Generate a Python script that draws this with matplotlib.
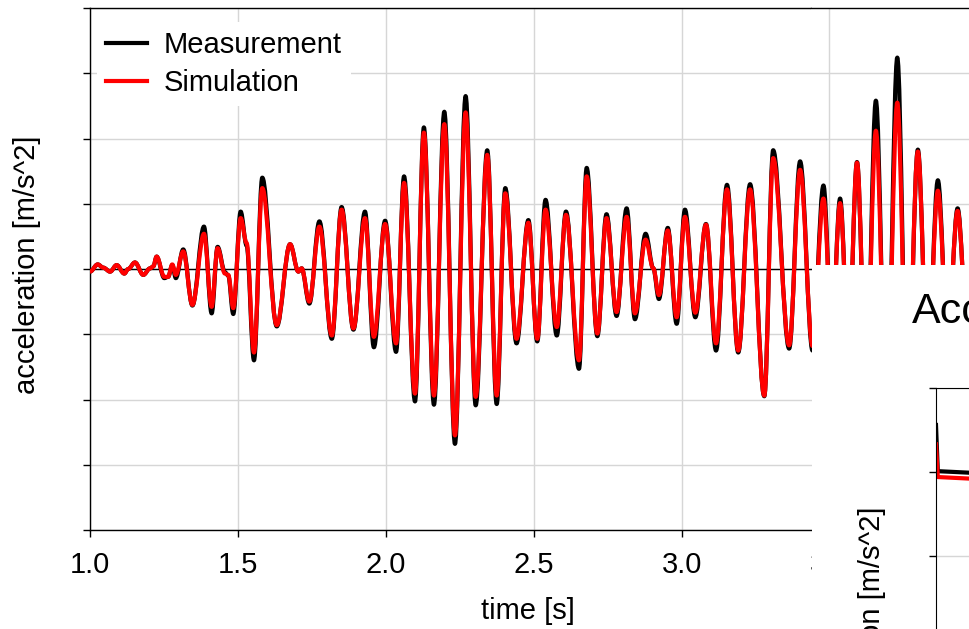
"""Measurement vs simulation acceleration trace (overlapping screenshot)."""

import matplotlib

matplotlib.use("Agg")
import matplotlib.pyplot as plt
import numpy as np
from matplotlib.lines import Line2D
from matplotlib.patches import PathPatch, Rectangle
from matplotlib.path import Path

plt.rcParams["font.family"] = ["Liberation Sans", "DejaVu Sans"]

# extrema of the traces (time [s], acceleration)
time = [
    1.000, 1.026, 1.045, 1.068, 1.090, 1.116, 1.129, 1.152, 1.180, 1.203,
    1.214, 1.225, 1.251, 1.264, 1.278, 1.290, 1.315, 1.346, 1.385, 1.411,
    1.431, 1.456, 1.467, 1.484, 1.509, 1.529, 1.554, 1.582, 1.631, 1.676,
    1.704, 1.715, 1.741, 1.775, 1.817, 1.850, 1.890, 1.929, 1.959, 1.997,
    2.034, 2.061, 2.098, 2.128, 2.162, 2.197, 2.233, 2.269, 2.303, 2.342,
    2.374, 2.403, 2.441, 2.481, 2.511, 2.539, 2.577, 2.608, 2.652, 2.678,
    2.714, 2.745, 2.779, 2.813, 2.841, 2.877, 2.903, 2.922, 2.952, 2.982,
    3.010, 3.045, 3.081, 3.115, 3.152, 3.190, 3.230, 3.278, 3.308, 3.362,
    3.399, 3.441, 3.480, 3.510, 3.539, 3.569, 3.599, 3.632, 3.666, 3.704,
    3.742, 3.778, 3.815, 3.850, 3.886, 3.921, 3.956, 3.990,
]
measurement = [
    -0.04, 0.07, 0.02, -0.04, 0.06, -0.07, 0.00, 0.10, -0.09, 0.01,
    0.04, 0.19, -0.14, -0.12, 0.06, -0.14, 0.30, -0.56, 0.65, -0.68,
    0.34, -0.05, -0.10, -0.69, 0.88, 0.36, -1.40, 1.40, -0.88, 0.38,
    -0.04, 0.01, -0.53, 0.73, -1.07, 0.95, -0.93, 0.88, -1.20, 0.74,
    -1.27, 1.42, -2.03, 2.17, -2.08, 2.41, -2.68, 2.65, -2.09, 1.82,
    -2.07, 1.24, -1.14, 0.75, -1.11, 1.06, -1.02, 0.88, -1.53, 1.55,
    -1.03, 0.84, -0.72, 0.93, -0.77, 0.54, 0.01, -0.46, 0.63, -0.84,
    0.91, -0.74, 0.69, -1.25, 1.29, -1.28, 1.30, -1.95, 1.82, -1.22,
    1.65, -1.25, 1.28, -1.00, 1.08, -1.20, 1.64, -1.80, 2.58, -2.40,
    3.24, -2.20, 1.83, -1.50, 1.36, -1.10, 0.93, -0.90,
]
simulation = [
    -0.04, 0.07, 0.02, -0.04, 0.06, -0.07, 0.00, 0.10, -0.09, 0.01,
    0.04, 0.19, -0.12, -0.12, 0.07, -0.09, 0.27, -0.55, 0.54, -0.58,
    0.32, -0.07, -0.09, -0.60, 0.78, 0.40, -1.28, 1.24, -0.86, 0.38,
    -0.04, 0.01, -0.50, 0.65, -1.02, 0.91, -0.91, 0.78, -1.04, 0.69,
    -1.14, 1.32, -1.91, 2.09, -1.94, 2.22, -2.55, 2.40, -1.96, 1.75,
    -1.94, 1.16, -1.07, 0.71, -1.07, 0.91, -0.89, 0.83, -1.40, 1.42,
    -0.99, 0.78, -0.66, 0.80, -0.68, 0.45, 0.01, -0.40, 0.59, -0.74,
    0.80, -0.67, 0.68, -1.14, 1.22, -1.25, 1.22, -1.94, 1.70, -1.17,
    1.52, -1.18, 1.08, -0.95, 1.01, -1.15, 1.63, -1.70, 2.12, -2.20,
    2.55, -2.00, 1.80, -1.40, 1.20, -1.00, 0.89, -0.85,
]

# second (overlapping) chart, only its first samples are visible
time_b = [0.0, 0.03, 0.6, 10.0]
measurement_b = [-0.44, -0.99, -1.01, -1.05]
simulation_b = [-0.67, -1.06, -1.08, -1.12]

W, H = 969, 629
FS = 21
GRID = "#d6d6d6"


def px(x0, y0, x1, y1):
    """pixel box (top-left origin) -> figure fraction rect"""
    return [x0 / W, 1 - y1 / H, (x1 - x0) / W, (y1 - y0) / H]


def trace(ax, t, v, color, z):
    # join the extrema with bezier segments (flat tangent at each extremum)
    verts = [(t[0], v[0])]
    codes = [Path.MOVETO]
    for i in range(len(t) - 1):
        dt = t[i + 1] - t[i]
        verts += [(t[i] + 0.36 * dt, v[i]), (t[i + 1] - 0.36 * dt, v[i + 1]),
                  (t[i + 1], v[i + 1])]
        codes += [Path.CURVE4] * 3
    ax.add_patch(PathPatch(Path(verts, codes), fill=False, edgecolor=color,
                           lw=3, joinstyle="round", zorder=z))


fig = plt.figure(figsize=(W / 100, H / 100), dpi=100)

# ---- main chart
ax = fig.add_axes(px(90, 8, 90 + 2.6 * 296, 530))
trace(ax, time, measurement, "black", 3)
trace(ax, time, simulation, "red", 4)
ax.axhline(0, color="black", lw=1, zorder=2)
ax.set_xlim(1.0, 3.6)
ax.set_ylim(-4, 4)
ax.set_xticks(np.arange(1.0, 3.51, 0.5))
ax.set_yticks(np.arange(-4, 5, 1))
ax.set_yticklabels([])
ax.grid(True, color=GRID, lw=1)
ax.set_axisbelow(True)
ax.tick_params(direction="out", length=5, width=1, labelsize=FS, pad=10)
for s in ax.spines.values():
    s.set_linewidth(1)
handles = [Line2D([], [], color="black", lw=3), Line2D([], [], color="red", lw=3)]
ax.legend(handles, ["Measurement", "Simulation"], loc="upper left",
          bbox_to_anchor=(0.009, 0.973), fontsize=FS, frameon=True,
          fancybox=False, edgecolor="none", facecolor="white", framealpha=1,
          borderpad=0.3, borderaxespad=0, handlelength=1.4,
          handletextpad=0.6, labelspacing=0.35)
fig.text(27 / W, 1 - 265 / H, "acceleration [m/s^2]", rotation=90,
         ha="center", va="center", fontsize=FS)
fig.text(528 / W, 1 - 611 / H, "time [s]", ha="center", va="center",
         fontsize=FS)

# ---- the picture is cropped here and another screenshot lies on top
fig.add_artist(Rectangle((812 / W, 0), 1, 1, transform=fig.transFigure,
                         facecolor="white", edgecolor="none", zorder=1))

top = fig.add_axes(px(811, 8, W + 1, 265), zorder=2)
trace(top, time, measurement, "black", 3)
trace(top, time, simulation, "red", 4)
top.set_xlim(1 + (811 - 90) / 296, 1 + (W + 1 - 90) / 296)
top.set_ylim((269 - 265) / 65.25, 4.0)
top.set_xticks(np.arange(3.5, 4.01, 0.5))
top.set_yticks([1, 2, 3])
top.grid(True, color=GRID, lw=1)
top.set_axisbelow(True)
top.tick_params(length=0, labelbottom=False, labelleft=False)
for side in ["left", "right", "bottom"]:
    top.spines[side].set_visible(False)
top.spines["top"].set_linewidth(1)

low = fig.add_axes(px(936, 388, 936 + 600, 388 + 84 * 6), zorder=2)
low.plot(time_b, measurement_b, color="black", lw=3)
low.plot(time_b, simulation_b, color="red", lw=3)
low.set_xlim(0, 10)
low.set_ylim(-6, 0)
low.set_yticks(np.arange(-6, 1, 1))
low.set_xticks([])
low.set_yticklabels([])
low.grid(True, axis="y", color=GRID, lw=1)
low.set_axisbelow(True)
low.tick_params(direction="out", length=5, width=1)

fig.text(912 / W, 1 - 323 / H, "Acceleration", ha="left", va="baseline",
         fontsize=31, zorder=3)
fig.text(872 / W, 1 - 636 / H, "acceleration [m/s^2]", rotation=90,
         ha="center", va="center", fontsize=FS, zorder=3)

fig.savefig("out.png", dpi=100)
